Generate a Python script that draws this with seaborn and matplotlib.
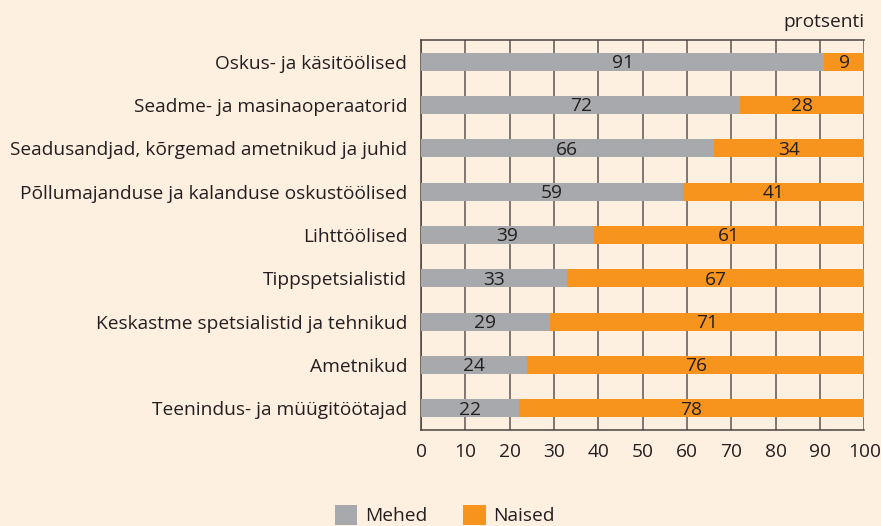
import matplotlib
matplotlib.use("Agg")
import matplotlib.pyplot as plt
import seaborn as sns
import pandas as pd
import numpy as np
from matplotlib.patches import Patch

categories = ["Oskus- ja käsitöölised", "Seadme- ja masinaoperaatorid",
              "Seadusandjad, kõrgemad ametnikud ja juhid",
              "Põllumajanduse ja kalanduse oskustöölised", "Lihttöölised",
              "Tippspetsialistid", "Keskastme spetsialistid ja tehnikud",
              "Ametnikud", "Teenindus- ja müügitöötajad"]
mehed = [91, 72, 66, 59, 39, 33, 29, 24, 22]
naised = [9, 28, 34, 41, 61, 67, 71, 76, 78]
xticks = [0, 10, 20, 30, 40, 50, 60, 70, 80, 90, 100]

BG = "#FEF0E1"
GRAY = "#A7A9AC"
ORANGE = "#F7941D"
TXT = "#231F20"
LINE = "#4a4340"

sns.set_theme(style="white")
plt.rcParams['font.family'] = ['Open Sans', 'DejaVu Sans']

df = pd.DataFrame({"cat": categories, "mehed": mehed, "naised": naised})
df["total"] = df["mehed"] + df["naised"]

fig = plt.figure(figsize=(8.81, 5.26), dpi=100, facecolor=BG)
ax = fig.add_axes([0.478, 0.1825, 0.503, 0.7415])
ax.set_facecolor(BG)

sns.barplot(data=df, y="cat", x="total", color=ORANGE, orient="h", width=0.42,
            saturation=1, ax=ax, zorder=3, linewidth=0, edgecolor="none")
sns.barplot(data=df, y="cat", x="mehed", color=GRAY, orient="h", width=0.42,
            saturation=1, ax=ax, zorder=3, linewidth=0, edgecolor="none")

FS = 13.8
for i, (m, n) in enumerate(zip(mehed, naised)):
    ax.text(m / 2, i + 0.03, str(m), ha="center", va="center", fontsize=FS, color=TXT, zorder=4)
    ax.text(m + n / 2, i + 0.03, str(n), ha="center", va="center", fontsize=FS, color=TXT, zorder=4)

ax.set_xlim(0, 100)
ax.set_ylim(8.5, -0.5)
ax.set_xticks(xticks)
ax.set_xticklabels([str(t) for t in xticks], fontsize=FS, color=TXT)
ax.set_yticks(range(len(categories)))
ax.set_yticklabels(categories, fontsize=FS, color=TXT)
ax.set_yticks(np.arange(-0.5, 9, 1), minor=True)
ax.tick_params(axis="y", which="major", length=0, pad=10)
ax.tick_params(axis="y", which="minor", length=5, width=1, color=LINE, direction="out")
ax.tick_params(axis="x", which="major", length=5, width=1, color=LINE, direction="out", pad=4)
ax.set_xlabel("")
ax.set_ylabel("")
ax.grid(axis="x", color="#5e5652", linewidth=1.1, zorder=0)
ax.set_axisbelow(True)
for s in ["top", "left", "bottom"]:
    ax.spines[s].set_visible(True)
    ax.spines[s].set_color(LINE)
    ax.spines[s].set_linewidth(1.1)
ax.spines["right"].set_visible(False)

fig.text(0.981, 0.958, "protsenti", ha="right", va="center", fontsize=FS, color=TXT)

handles = [Patch(facecolor=GRAY, edgecolor="none", label="Mehed"),
           Patch(facecolor=ORANGE, edgecolor="none", label="Naised")]
fig.legend(handles=handles, loc="center", bbox_to_anchor=(0.505, 0.02), ncol=2,
           frameon=False, fontsize=FS, handlelength=1.15, handleheight=1.15,
           columnspacing=1.9, handletextpad=0.4, labelcolor=TXT,
           borderpad=0, borderaxespad=0)

fig.savefig("out.png", dpi=100, facecolor=BG)
